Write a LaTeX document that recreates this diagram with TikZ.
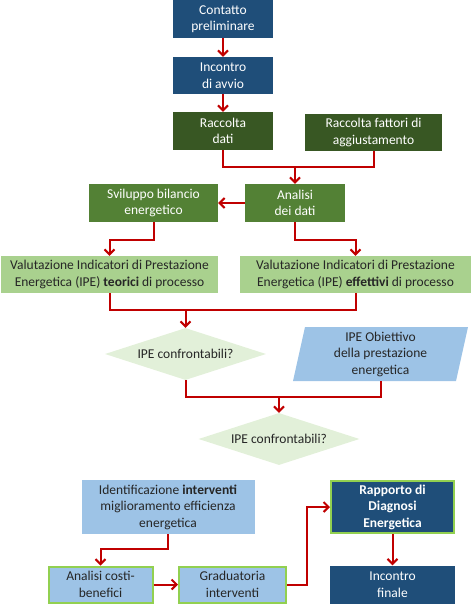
\documentclass[tikz,border=0pt]{standalone}
\usepackage{fontspec}
\setmainfont{Carlito}
\usetikzlibrary{arrows.meta,shapes.geometric}
\definecolor{dblue}{HTML}{1F4E79}
\definecolor{dgreen}{HTML}{385723}
\definecolor{mgreen}{HTML}{538135}
\definecolor{lgreen}{HTML}{A9D18E}
\definecolor{pgreen}{HTML}{E2F0D9}
\definecolor{lblue}{HTML}{9DC3E6}
\definecolor{bgreen}{HTML}{92D050}
\definecolor{cred}{HTML}{C00000}
\definecolor{txt}{HTML}{262626}
\tikzset{
  x=1pt, y=-1pt,
  every node/.style={font=\fontsize{13.5}{16.5}\selectfont, align=center, inner sep=0pt},
  boxb/.style={fill=dblue, text=white, minimum width=#1},
  boxdg/.style={fill=dgreen, text=white, minimum width=#1},
  boxmg/.style={fill=mgreen, text=white, minimum width=#1},
  boxlg/.style={fill=lgreen, text=txt, minimum width=#1},
  boxlb/.style={fill=lblue, text=txt, minimum width=#1},
  gframe/.style={draw=bgreen, line width=2pt},
  dia/.style={diamond, fill=pgreen, text=txt, aspect=3.1, minimum width=161pt, minimum height=52pt, inner sep=0pt},
  conn/.style={draw=cred, line width=2pt},
  arr/.style={conn, -{Straight Barb[length=5pt,width=10pt,line width=2pt]}},
}
\begin{document}
\begin{tikzpicture}
\useasboundingbox (0,0) rectangle (474,604);
% boxes
\node[boxb=100pt, minimum height=38pt] (c1) at (223,19) {Contatto\\preliminare};
\node[boxb=100pt, minimum height=37pt] (c2) at (223,75.5) {Incontro\\di avvio};
\node[boxdg=100pt, minimum height=38pt] (rd) at (223,131) {Raccolta\\dati};
\node[boxdg=137pt, minimum height=37pt] (rf) at (373.5,132.5) {Raccolta fattori di\\aggiustamento};
\node[boxmg=100pt, minimum height=38pt] (an) at (295,203) {Analisi\\dei dati};
\node[boxmg=129pt, minimum height=38pt] (sv) at (153.5,203) {Sviluppo bilancio\\energetico};
\node[boxlg=217pt, minimum height=37pt] (vt) at (109.5,274.5) {Valutazione Indicatori di Prestazione\\Energetica (IPE) \textbf{teorici} di processo};
\node[boxlg=231pt, minimum height=37pt] (ve) at (355.5,274.5) {Valutazione Indicatori di Prestazione\\Energetica (IPE) \textbf{effettivi} di processo};
\node[dia] (d1) at (185.5,354) {IPE confrontabili?};
\fill[lblue] (305,327) -- (468,327) -- (456,381) -- (293,381) -- cycle;
\node[text=txt, minimum width=163pt, minimum height=54pt] (par) at (380.5,354) {IPE Obiettivo\\della prestazione\\energetica};
\node[dia] (d2) at (279,439) {IPE confrontabili?};
\node[boxlb=173pt, minimum height=54pt] (id) at (168,507) {Identificazione \textbf{interventi}\\miglioramento efficienza\\energetica};
\node[boxlb=104pt, minimum height=36pt, gframe] (ac) at (100.5,584.5) {Analisi costi-\\benefici};
\node[boxlb=107pt, minimum height=36pt, gframe] (gr) at (232.5,584.5) {Graduatoria\\interventi};
\node[boxb=123pt, minimum height=52pt, gframe] (rp) at (392.5,507) {\textbf{Rapporto di}\\\textbf{Diagnosi}\\\textbf{Energetica}};
\node[boxb=125pt, minimum height=38pt] (inf) at (392.5,584.5) {Incontro\\finale};
% junctions
\coordinate (m1) at (295,167);
\coordinate (m2) at (0,240);
\coordinate (m3) at (185.5,310);
\coordinate (m4) at (279,397);
\coordinate (m5) at (0,549);
% connectors
\draw[arr] (c1.south) -- (c2.north);
\draw[arr] (c2.south) -- (rd.north);
\draw[conn] (rd.south) |- (m1);
\draw[conn] (rf.south) |- (m1);
\draw[arr] (m1) -- (an.north);
\draw[arr] (an.west) -- (sv.east);
\draw[arr] (sv.south) -- (sv.south |- m2) -| (vt.north);
\draw[arr] (an.south) -- (an.south |- m2) -| (ve.north);
\draw[conn] (vt.south) |- (m3);
\draw[conn] (ve.south) |- (m3);
\draw[arr] (m3) -- (d1.north);
\draw[conn] (d1.south) |- (m4);
\draw[conn] (par.south) |- (m4);
\draw[arr] (m4) -- (d2.north);
\draw[arr] (id.south) -- (id.south |- m5) -| (ac.north);
\draw[arr] (ac.east) -- (gr.west);
\draw[arr] (gr.east) -- ++(20,0) |- (rp.west);
\draw[arr] (rp.south) -- (inf.north);
\end{tikzpicture}
\end{document}
